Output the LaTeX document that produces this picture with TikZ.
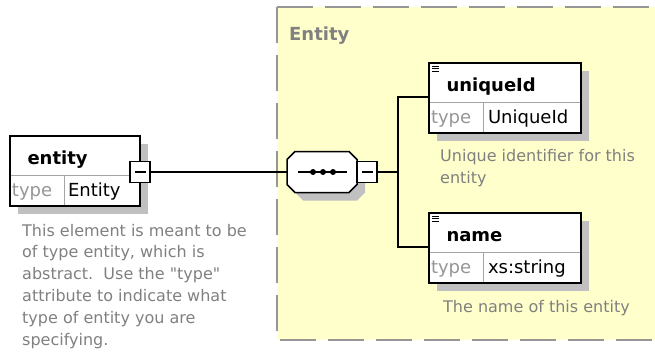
\documentclass[tikz,border=0pt]{standalone}
\usepackage{fontspec}
\setmainfont{DejaVu Sans}
\usetikzlibrary{shadows}
\definecolor{grpfill}{RGB}{255, 255, 204}
\definecolor{grpline}{RGB}{150, 150, 150}
\definecolor{shadowgray}{RGB}{192, 192, 192}
\definecolor{descgray}{RGB}{128, 128, 128}
\definecolor{typegray}{RGB}{150, 150, 150}
\definecolor{cellline}{RGB}{165, 165, 165}

\begin{document}
\begin{tikzpicture}[x=1pt, y=-1pt,
  elshadow/.style={drop shadow={shadow xshift=8pt, shadow yshift=-8pt, fill=shadowgray, opacity=1}},
  groupbox/.style={anchor=north west, fill=grpfill, minimum width=390pt, minimum height=333pt, outer sep=0pt},
  grpborder/.style={draw=grpline, line width=2pt, dash pattern=on 36pt off 12pt},
  grouplabel/.style={anchor=base west, inner sep=0pt, text=descgray, font=\fontsize{18}{20}\selectfont\bfseries},
  namerow/.style={anchor=north west, fill=white, elshadow, inner xsep=17.5pt, inner ysep=0pt, outer sep=0pt, minimum height=39pt, text height=17pt, text depth=0pt, align=left, font=\fontsize{18}{20}\selectfont\bfseries},
  typecell/.style={anchor=north west, fill=white, draw=cellline, line width=1pt, elshadow, inner ysep=0pt, outer sep=0pt, minimum height=31pt, text height=12.5pt, text depth=0pt, align=left, font=\fontsize{18}{20}\selectfont},
  typelbl/.style={typecell, inner xsep=2pt, text width=50pt, text=typegray},
  elborder/.style={draw=black, line width=1.8pt},
  minusbox/.style={draw=black, fill=white, line width=1.5pt, minimum width=20pt, minimum height=21pt, inner sep=0pt, outer sep=0pt},
  seqnode/.style={minimum width=70pt, minimum height=41pt, inner sep=0pt, outer sep=0pt},
  conn/.style={draw=black, line width=1.5pt},
  desc/.style={anchor=north west, inner sep=0pt, align=left, text=descgray, font=\fontsize{16}{21.8}\selectfont}]
  \useasboundingbox (0,0) rectangle (655,351);

  \node[groupbox] (grp) at (277,7) {};
  \draw[grpborder] (grp.north west) -- (grp.north east);
  \draw[grpborder] (grp.north west) -- (grp.south west) -- (grp.south east);
  \node[grouplabel] (grplabel) at (289,40) {Entity};

  \node[namerow, text width=95pt] (entity) at (10,136) {entity};
  \node[typelbl] (entitytl) at (entity.south west) {type};
  \node[typecell, inner xsep=4pt, text width=68pt] (entitytv) at (entitytl.north east) {Entity};
  \draw[elborder] (entity.north west) rectangle (entitytv.south east);
  \node[minusbox] (entminus) at (140,172) {\rule{11pt}{1.3pt}};
  \node[desc] (entitydesc) at (22,223.8) {This element is meant to be\\of type entity, which is\\abstract.\ \ Use the \textquotedbl type\textquotedbl\\attribute to indicate what\\type of entity you are\\specifying.};

  \fill[shadowgray, shift={(8,8)}] (295,151.5) -- (349,151.5) -- (357,159.5) -- (357,184.5) -- (349,192.5) -- (295,192.5) -- (287,184.5) -- (287,159.5) -- cycle;
  \filldraw[fill=white, line width=1.5pt] (295,151.5) -- (349,151.5) -- (357,159.5) -- (357,184.5) -- (349,192.5) -- (295,192.5) -- (287,184.5) -- (287,159.5) -- cycle;
  \node[seqnode] (seq) at (322,172) {};
  \draw[line width=1.5pt] ([xshift=11pt]seq.west) -- ([xshift=-10pt]seq.east);
  \foreach \dx in {-9,1,11}
    \fill ([xshift=\dx pt]seq.center) circle (3);
  \node[minusbox, anchor=west] (seqminus) at (seq.east) {\rule{11pt}{1.3pt}};

  \node[namerow, text width=117pt] (uid) at (429,63) {uniqueId};
  \node[typelbl] (uidtl) at (uid.south west) {type};
  \node[typecell, inner xsep=5pt, text width=88pt] (uidtv) at (uidtl.north east) {UniqueId};
  \draw[elborder] (uid.north west) rectangle (uidtv.south east);
  \foreach \k in {0,2.5,5}
    \draw[line width=1pt] ([xshift=3pt, yshift={-(3+\k)}]uid.north west) -- ++(7,0);
  \node[desc] (uiddesc) at (440,149.3) {Unique identifier for this\\entity};

  \node[namerow, text width=117pt] (name) at (429,213) {name};
  \node[typelbl] (nametl) at (name.south west) {type};
  \node[typecell, inner xsep=5pt, text width=88pt] (nametv) at (nametl.north east) {xs:string};
  \draw[elborder] (name.north west) rectangle (nametv.south east);
  \foreach \k in {0,2.5,5}
    \draw[line width=1pt] ([xshift=3pt, yshift={-(3+\k)}]name.north west) -- ++(7,0);
  \node[desc] (namedesc) at (443,299.8) {The name of this entity};

  \coordinate (fork) at (398,172);
  \draw[conn] (entminus.east) -- (seq.west);
  \draw[conn] (seqminus.east) -- (fork);
  \draw[conn] ([yshift=5pt]uid.south west) -| (fork) |- ([yshift=5pt]name.south west);
\end{tikzpicture}
\end{document}
